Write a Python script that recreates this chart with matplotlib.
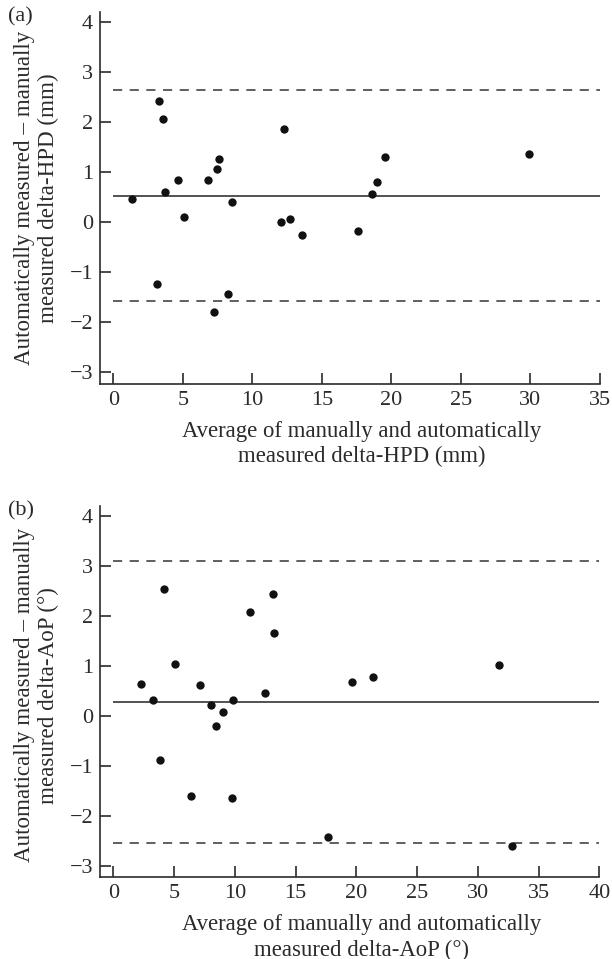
import matplotlib
matplotlib.use("Agg")
import matplotlib.pyplot as plt

# Panel (a): delta-HPD (mm)
hpd_avg = [1.33, 3.3, 3.6, 3.75, 4.66, 5.05, 3.17, 6.83, 7.43, 7.62, 8.54, 7.26, 8.22,
           12.28, 12.04, 12.72, 13.6, 17.62, 18.63, 18.99, 19.54, 29.92]
hpd_diff = [0.47, 2.42, 2.07, 0.60, 0.85, 0.10, -1.24, 0.85, 1.07, 1.26, 0.40, -1.80, -1.43,
            1.87, 0.01, 0.07, -0.25, -0.18, 0.56, 0.81, 1.31, 1.37]
hpd_mean = 0.52
hpd_loa = [2.64, -1.58]

# Panel (b): delta-AoP (deg)
aop_avg = [2.28, 3.29, 4.17, 5.08, 7.14, 8.04, 9.0, 8.43, 9.83, 11.22, 12.49, 13.14, 13.25,
           3.84, 6.4, 9.74, 19.65, 21.37, 31.74, 17.67, 32.79]
aop_diff = [0.63, 0.31, 2.54, 1.04, 0.61, 0.21, 0.08, -0.21, 0.31, 2.07, 0.45, 2.43, 1.65,
            -0.89, -1.61, -1.64, 0.67, 0.77, 1.02, -2.42, -2.61]
aop_mean = 0.27
aop_loa = [3.09, -2.55]

yticks = [-3, -2, -1, 0, 1, 2, 3, 4]
xticks_a = [0, 5, 10, 15, 20, 25, 30, 35]
xticks_b = [0, 5, 10, 15, 20, 25, 30, 35, 40]

plt.rcParams['font.family'] = ['Liberation Serif', 'DejaVu Serif']
W, H = 612, 959
fig = plt.figure(figsize=(W / 100, H / 100), dpi=100)

def px_axes(x0, x1, y0, y1):
    return fig.add_axes([x0 / W, 1 - y1 / H, (x1 - x0) / W, (y1 - y0) / H])

axA = px_axes(100, 600, 12, 384)
axB = px_axes(100, 599.3, 506, 877.3)

ink = '#2b2b2b'
FS = 16

def style(ax, x, y, mean, loa, xmax, xticks, xl1, xl2, ylab, xlim_left, ylab_y):
    ax.scatter(x, y, s=36, color='#111111', zorder=3, linewidths=0)
    ax.hlines(mean, 0, xmax, color='#444444', lw=1.3)
    ax.hlines(loa, 0, xmax, color='#444444', lw=1.2, linestyles=(0, (5.5, 4.5)))
    ax.set_xlim(xlim_left, xmax)
    ax.set_ylim(-3.23, 4.2)
    ax.set_xticks(xticks)
    ax.set_yticks(yticks)
    ax.set_yticklabels(['\u22123', '\u22122', '\u22121', '0', '1', '2', '3', '4'])
    for s in ['top', 'right']:
        ax.spines[s].set_visible(False)
    for s in ['left', 'bottom']:
        ax.spines[s].set_color(ink)
        ax.spines[s].set_linewidth(1.2)
    ax.tick_params(direction='in', length=8, width=1.2, color=ink, labelsize=FS,
                   labelcolor=ink, pad=5)
    ax.set_xlabel(xl1 + '\n' + xl2, fontsize=16.4, color=ink, linespacing=1.25)
    ax.xaxis.set_label_coords(0.524, -0.1, transform=ax.transAxes)
    ax.xaxis.label.set_va('top')
    ax.set_ylabel(ylab, fontsize=16.6, color=ink, linespacing=1.2)
    ax.yaxis.set_label_coords(-0.082, ylab_y)

style(axA, hpd_avg, hpd_diff, hpd_mean, hpd_loa, 35, xticks_a,
      'Average of manually and automatically', 'measured delta-HPD (mm)',
      'Automatically measured \u2013 manually\nmeasured delta-HPD (mm)', -0.96, 0.5)
style(axB, aop_avg, aop_diff, aop_mean, aop_loa, 40, xticks_b,
      'Average of manually and automatically', 'measured delta-AoP (\u00b0)',
      'Automatically measured \u2013 manually\nmeasured delta-AoP (\u00b0)', -1.1, 0.49)

fig.text(8 / W, 1 - 17 / H, '(a)', fontsize=FS, color=ink, va='center', ha='left')
fig.text(8 / W, 1 - 511 / H, '(b)', fontsize=FS, color=ink, va='center', ha='left')

fig.savefig('out.png', dpi=100)
